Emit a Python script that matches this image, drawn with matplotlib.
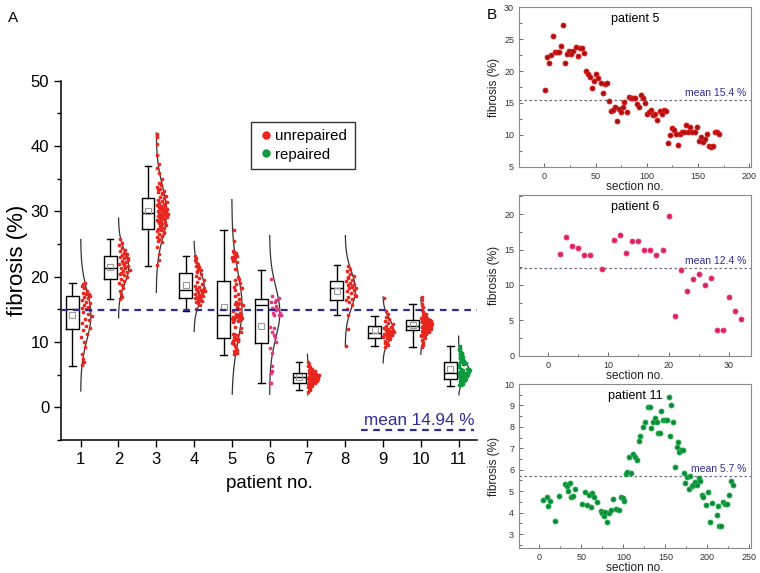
import numpy as np
import matplotlib.pyplot as plt
from matplotlib.ticker import MultipleLocator
from matplotlib.lines import Line2D

plt.rcParams['font.family'] = ['Liberation Sans', 'DejaVu Sans']

# ---------------- panel A data ----------------
patients = list(range(1, 12))
# box statistics
whis_lo = [6.3, 16.6, 21.7, 14.8, 8.0, 3.7, 2.7, 14.2, 9.4, 9.3, 3.3]
q1 = [12.0, 19.6, 27.3, 16.8, 10.6, 9.8, 3.8, 16.5, 10.6, 11.8, 4.3]
med = [15.1, 21.3, 29.7, 17.9, 14.1, 15.7, 4.6, 18.2, 11.4, 12.5, 5.3]
q3 = [17.1, 23.2, 32.0, 20.6, 19.3, 16.6, 5.3, 19.4, 12.5, 13.4, 6.9]
whis_hi = [19.0, 25.7, 36.9, 23.1, 27.2, 21.1, 7.0, 21.8, 14.0, 15.8, 9.4]
box_mean = [14.1, 21.5, 30.1, 18.7, 15.4, 12.4, 4.6, 17.8, 11.9, 12.6, 5.8]
# normal curves: centre, sd, lower / upper end
fit_mu = [14.1, 21.4, 29.9, 18.5, 15.4, 14.5, 4.6, 18.0, 11.9, 12.5, 5.7]
fit_sd = [3.8, 2.5, 4.0, 2.3, 5.2, 3.9, 1.0, 2.8, 1.7, 1.4, 1.4]
fit_lo = [2.5, 13.7, 17.6, 11.6, 2.0, 2.0, 1.9, 9.4, 6.8, 8.1, 1.9]
fit_hi = [25.7, 29.0, 42.0, 25.4, 31.8, 26.3, 8.1, 26.3, 16.9, 16.8, 10.9]
overall_mean = 14.94

p1 = [6.5, 7.0, 7.4, 8.1, 9.2, 10.0, 10.8, 11.3, 11.9, 12.1, 12.4, 12.9, 13.3, 13.6,
      14.0, 14.3, 14.6, 14.9, 15.1, 15.2, 15.4, 15.7, 16.0, 16.2, 16.5, 16.7, 16.9,
      17.1, 17.3, 17.5, 17.8, 18.2, 18.6, 19.0, 18.9, 17.4]
p2 = [16.6, 16.9, 17.3, 17.8, 18.2, 18.7, 19.1, 19.4, 19.6, 19.9, 20.2, 20.4, 20.7,
      20.9, 21.1, 21.3, 21.4, 21.6, 21.8, 22.0, 22.2, 22.4, 22.6, 22.8, 23.0, 23.1,
      23.3, 23.5, 23.7, 23.9, 24.1, 24.4, 24.8, 25.2, 25.8, 22.9, 21.5, 20.5, 23.4, 22.1]
p3 = [21.8, 22.5, 23.4, 24.6, 25.3, 25.8, 26.1, 26.3, 26.6, 26.9, 27.1, 27.3, 27.5,
      27.7, 27.9, 28.0, 28.2, 28.4, 28.5, 28.7, 28.8, 29.0, 29.1, 29.2, 29.3, 29.4,
      29.5, 29.6, 29.7, 29.8, 29.9, 30.0, 30.1, 30.2, 30.3, 30.4, 30.5, 30.7, 30.8,
      30.9, 31.0, 31.2, 31.3, 31.5, 31.6, 31.8, 32.0, 32.2, 32.4, 32.6, 32.9, 33.1,
      33.4, 33.7, 34.0, 34.4, 35.0, 35.8, 36.6, 37.2, 38.6, 40.3, 41.4, 41.9, 26.7,
      27.6, 28.6, 29.4, 30.6, 31.4, 32.8, 33.5, 30.2, 29.0, 27.0, 26.2, 25.5]
p4 = [15.0, 15.6, 16.0, 16.2, 16.4, 16.5, 16.7, 16.8, 16.9, 17.1, 17.2, 17.4, 17.5,
      17.7, 17.8, 17.9, 18.0, 18.2, 18.4, 18.6, 18.9, 19.2, 19.5, 19.8, 20.1, 20.4,
      20.7, 21.0, 21.3, 21.6, 21.9, 22.2, 22.5, 22.8, 23.1, 16.3, 17.0, 18.1, 21.5, 20.9]
p7 = [2.3, 2.6, 2.9, 3.1, 3.3, 3.4, 3.5, 3.6, 3.7, 3.8, 3.8, 3.9, 4.0, 4.1, 4.1, 4.2,
      4.3, 4.3, 4.4, 4.5, 4.5, 4.6, 4.6, 4.7, 4.7, 4.8, 4.8, 4.9, 5.0, 5.0, 5.1, 5.2,
      5.2, 5.3, 5.4, 5.5, 5.6, 5.7, 5.9, 6.1, 6.3, 6.6, 7.0, 4.4, 4.9, 4.2, 5.3, 3.9]
p8 = [9.4, 12.0, 14.2, 15.0, 15.6, 16.1, 16.4, 16.6, 16.9, 17.2, 17.5, 17.8, 18.0,
      18.2, 18.3, 18.5, 18.7, 18.9, 19.1, 19.3, 19.5, 19.8, 20.1, 20.4, 20.8, 21.2,
      21.6, 17.0, 18.6, 19.9]
p9 = [9.3, 9.6, 9.9, 10.2, 10.4, 10.6, 10.7, 10.9, 11.0, 11.1, 11.2, 11.3, 11.4, 11.5,
      11.6, 11.7, 11.8, 11.9, 12.0, 12.2, 12.3, 12.5, 12.7, 12.9, 13.2, 13.5, 13.9,
      14.3, 14.8, 16.7, 11.0, 11.6, 12.1, 10.5, 9.8]
p10 = [9.2, 9.6, 10.0, 10.3, 10.6, 10.8, 11.0, 11.2, 11.3, 11.5, 11.6, 11.7, 11.8,
       11.9, 12.0, 12.0, 12.1, 12.2, 12.2, 12.3, 12.3, 12.4, 12.4, 12.5, 12.5, 12.6,
       12.6, 12.7, 12.7, 12.8, 12.9, 12.9, 13.0, 13.1, 13.1, 13.2, 13.3, 13.4, 13.5,
       13.6, 13.7, 13.9, 14.1, 14.3, 14.6, 14.9, 15.3, 15.8, 16.4, 16.9, 11.4, 12.1,
       12.8, 13.2, 11.9, 12.6, 13.0, 12.4, 11.7, 12.2, 13.8, 10.9, 12.9, 12.5, 13.3]

# ---------------- panel B data ----------------
p5_sec = [1, 2.3, 4.5, 6.5, 8.4, 10.7, 12.7, 14.6, 16.6, 18.5, 20.5, 22.4, 24.4, 26.3,
          28.2, 30.8, 32.8, 34.7, 36.7, 39, 40.6, 42.9, 44.8, 46.8, 48.7, 50.3, 52.6,
          54.9, 56.8, 58.8, 60.7, 63, 64.9, 66.9, 68.5, 70.5, 72.4, 74.4, 76.3, 78.2,
          80.5, 82.5, 84.4, 86.4, 88.3, 90.3, 92.2, 94.5, 96.4, 98.7, 100.6, 102.6,
          104.5, 106.5, 108.4, 110.4, 112.7, 114.6, 116.6, 118.5, 120.5, 122.4, 124.7,
          126.6, 128.6, 130.5, 132.5, 134.4, 136.7, 138.6, 140.6, 142.5, 144.5, 146.8,
          148.7, 150.6, 152.6, 154.5, 156.8, 158.8, 160.7, 162.7, 164.6, 166.6, 168.5,
          170.5]
p5_fib = [17.1, 22.2, 21.2, 22.5, 25.5, 23.0, 23.0, 23.0, 24.0, 27.2, 21.2, 22.7, 23.2,
          22.7, 23.1, 23.8, 22.4, 23.6, 23.6, 22.9, 20.0, 19.5, 19.0, 17.4, 18.4, 19.6,
          18.9, 18.2, 16.6, 17.9, 18.2, 15.3, 13.8, 13.9, 14.3, 12.2, 14.1, 13.5, 14.3,
          15.1, 13.5, 16.0, 15.8, 15.7, 15.8, 14.8, 14.4, 16.2, 15.7, 15.0, 13.3, 13.6,
          13.9, 13.1, 13.3, 12.3, 13.7, 13.2, 13.9, 13.8, 8.7, 9.9, 11.1, 10.8, 10.2,
          8.4, 10.2, 10.4, 10.5, 11.6, 10.5, 11.3, 10.4, 10.4, 11.3, 9.1, 9.7, 8.8, 9.4,
          10.2, 8.3, 8.1, 8.3, 10.4, 10.4, 10.2]
p6_sec = [2, 3, 4, 5, 6, 7, 9, 11, 12, 13, 14, 15, 16, 17, 18, 19, 20, 21, 22, 23, 24,
          25, 26, 27, 28, 29, 30, 31, 32]
p6_fib = [14.4, 16.8, 15.5, 15.2, 14.2, 14.2, 12.3, 16.4, 17.0, 14.5, 16.2, 16.2, 15.0,
          15.0, 14.2, 14.9, 19.7, 5.6, 12.1, 9.1, 10.8, 11.5, 10.0, 11.0, 3.7, 3.7, 8.3,
          6.3, 5.2]
p11_sec = [4.8, 8.7, 10.7, 12.7, 19, 23, 31, 33.3, 34.5, 36.5, 38, 40, 42.9, 50.8, 54.8,
           57, 59, 61, 62.7, 65, 68.7, 73, 74.6, 77, 78.6, 81, 83.3, 85, 87.3, 90.9, 95.2,
           97.6, 99.2, 100.8, 103, 104.8, 107, 109.5, 111, 113.5, 116, 118.3, 120.2, 123,
           126, 129.4, 131.7, 133.3, 135.7, 137.3, 139.7, 141.3, 143.7, 145.2, 147.6, 150,
           152.4, 154, 155.6, 157.1, 159.5, 161, 163.5, 165, 166.7, 169, 170.6, 172,
           173.8, 175.4, 177.8, 179.4, 181.7, 183.3, 185.7, 188, 189.7, 191.3, 193.7,
           195.2, 198.4, 200.8, 203, 206, 211, 212.7, 214.3, 216.7, 218.2, 220.6, 223.8,
           225.4, 227.8, 230]
p11_fib = [4.57, 4.74, 4.31, 4.56, 3.61, 4.79, 5.32, 5.24, 5.02, 5.37, 4.74, 4.79, 5.09,
           4.39, 4.95, 4.35, 4.82, 4.25, 4.93, 4.74, 4.48, 4.09, 4.0, 3.84, 4.04, 3.56,
           3.97, 4.12, 4.62, 4.18, 4.12, 4.71, 4.68, 4.54, 5.79, 5.91, 6.59, 5.83, 6.73,
           6.59, 6.45, 7.34, 7.57, 7.99, 8.23, 8.91, 8.91, 7.93, 8.23, 8.43, 8.23, 7.70,
           7.70, 8.76, 8.30, 8.30, 8.30, 9.38, 7.57, 9.02, 8.23, 6.11, 7.05, 7.29, 6.84,
           6.9, 6.9, 5.86, 5.40, 5.68, 5.09, 5.71, 5.24, 5.27, 5.44, 5.29, 5.61, 5.49,
           4.80, 4.74, 4.37, 4.98, 3.58, 4.43, 3.89, 4.32, 3.37, 3.37, 4.49, 4.40, 4.40,
           4.80, 5.47, 5.29]
p5_mean, p6_mean, p11_mean = 15.4, 12.4, 5.7

points = [p1, p2, p3, p4, p5_fib, p6_fib, p7, p8, p9, p10, p11_fib]
RED = '#e8261f'
PINK = '#e2357f'
GREEN = '#0f9a40'
pt_colors = [RED] * 5 + [PINK] + [RED] * 4 + [GREEN]
NAVY = '#2d2d9a'

fig = plt.figure(figsize=(7.6, 5.73), dpi=100)

# ================= panel A =================
ax = fig.add_axes([0.0803, 0.2321, 0.547, 0.627])
stats = []
for i in range(11):
    stats.append(dict(whislo=whis_lo[i], q1=q1[i], med=med[i], q3=q3[i],
                      whishi=whis_hi[i], mean=box_mean[i], fliers=[]))
pos = np.array(patients, dtype=float)
ax.bxp(stats, positions=pos - 0.22, widths=0.34, capwidths=0.17, showmeans=True,
       boxprops=dict(color='black', lw=1.0),
       medianprops=dict(color='black', lw=1.0),
       whiskerprops=dict(color='black', lw=1.0),
       capprops=dict(color='black', lw=1.0),
       meanprops=dict(marker='s', markerfacecolor='none', markeredgecolor='#999999',
                      markersize=4, markeredgewidth=0.8),
       manage_ticks=False)

amp = 0.27
for i in range(11):
    yy = np.linspace(fit_lo[i], fit_hi[i], 200)
    g = np.exp(-0.5 * ((yy - fit_mu[i]) / fit_sd[i]) ** 2)
    ax.plot(pos[i] + amp * g, yy, color='#333333', lw=0.9, zorder=2)
    vals = np.array(points[i])
    gv = np.exp(-0.5 * ((vals - fit_mu[i]) / fit_sd[i]) ** 2)
    u = (np.arange(len(vals)) * 0.6180339887 + 0.3) % 1.0
    xs = pos[i] + 0.01 + u * (0.03 + 0.27 * gv)
    ax.scatter(xs, vals, s=7, color=pt_colors[i], lw=0, zorder=3)

ax.axhline(overall_mean, color=NAVY, ls=(0, (3, 2.5)), lw=1.6, zorder=4)
ax.plot([8.43, 11.4], [-3.4, -3.4], color=NAVY, ls=(0, (3, 2.5)), lw=1.6,
        clip_on=False)
ax.text(11.42, -2.7, 'mean 14.94 %', color=NAVY, fontsize=12.3, ha='right',
        va='baseline')

ax.set_xlim(0.48, 11.48)
ax.set_ylim(-5, 50)
ax.set_xticks(patients)
ax.yaxis.set_major_locator(MultipleLocator(10))
ax.yaxis.set_minor_locator(MultipleLocator(5))
ax.tick_params(axis='both', labelsize=12, length=5, width=1)
ax.tick_params(axis='y', which='minor', length=3, width=1)
for s in ['top', 'right']:
    ax.spines[s].set_visible(False)
ax.spines['left'].set_linewidth(1.1)
ax.spines['bottom'].set_linewidth(1.1)
ax.set_ylabel('fibrosis (%)', fontsize=16, labelpad=2)
ax.set_xlabel('patient no.', fontsize=13.4, labelpad=6)

handles = [Line2D([], [], marker='o', ls='', color=RED, markersize=5),
           Line2D([], [], marker='o', ls='', color=GREEN, markersize=5)]
leg = ax.legend(handles, ['unrepaired', 'repaired'], loc='upper left',
                bbox_to_anchor=(0.458, 0.886), borderaxespad=0, fontsize=10.8,
                frameon=True, fancybox=False, handletextpad=0.1, handlelength=1.0,
                borderpad=0.5, labelspacing=0.3)
leg.get_frame().set_edgecolor('black')
leg.get_frame().set_linewidth(1.0)

fig.text(8 / 760, 1 - 18 / 573, 'A', fontsize=11, va='center')
fig.text(487 / 760, 1 - 15 / 573, 'B', fontsize=11, va='center')


# ================= panel B =================
def small_panel(rect, sec, fib, face, edge, mean, title, xlim, ylim,
                xmaj, xmin, ymaj, ymin, xlab_pad):
    a = fig.add_axes(rect)
    a.scatter(sec, fib, s=13, color=face, edgecolors=edge, linewidths=0.6, zorder=3)
    a.axhline(mean, color='#6a6a80', ls=(0, (2, 2)), lw=0.9, zorder=2)
    a.text(0.978, mean + (ylim[1] - ylim[0]) * 0.015, 'mean %.1f %%' % mean,
           transform=a.get_yaxis_transform(), ha='right', va='bottom',
           color=NAVY, fontsize=7.5)
    a.text(0.5, 0.965, title, transform=a.transAxes, ha='center', va='top',
           fontsize=9)
    a.set_xlim(*xlim)
    a.set_ylim(*ylim)
    a.xaxis.set_major_locator(MultipleLocator(xmaj))
    a.xaxis.set_minor_locator(MultipleLocator(xmin))
    a.yaxis.set_major_locator(MultipleLocator(ymaj))
    if ymin:
        a.yaxis.set_minor_locator(MultipleLocator(ymin))
    a.tick_params(which='both', direction='in', colors='#555555', labelsize=6.5,
                  labelcolor='#333333', width=0.6)
    a.tick_params(which='major', length=3)
    a.tick_params(which='minor', length=1.8)
    for s in a.spines.values():
        s.set_color('#8a8a8a')
        s.set_linewidth(0.8)
    a.set_ylabel('fibrosis (%)', fontsize=8.6, labelpad=3, color='#222222')
    a.set_xlabel('section no.', fontsize=8.6, labelpad=xlab_pad, color='#222222')
    return a


small_panel([0.6829, 0.7091, 0.3053, 0.2782], p5_sec, p5_fib, '#a81010', '#e52020',
            p5_mean, 'patient 5', (-24.7, 201.7), (5, 30), 50, 25, 5, 2.5, 0)
small_panel([0.6829, 0.3792, 0.3053, 0.2805], p6_sec, p6_fib, '#d6245f', '#ee3a74',
            p6_mean, 'patient 6', (-4.75, 33.65), (0, 22.7), 10, 5, 5, 2.5, 0)
small_panel([0.6829, 0.0436, 0.3053, 0.2862], p11_sec, p11_fib, '#0a8a38', '#25b04f',
            p11_mean, 'patient 11', (-24.2, 251.9), (2.35, 10), 50, 25, 1, 0.5, 0)

fig.savefig('out.png', dpi=100)
